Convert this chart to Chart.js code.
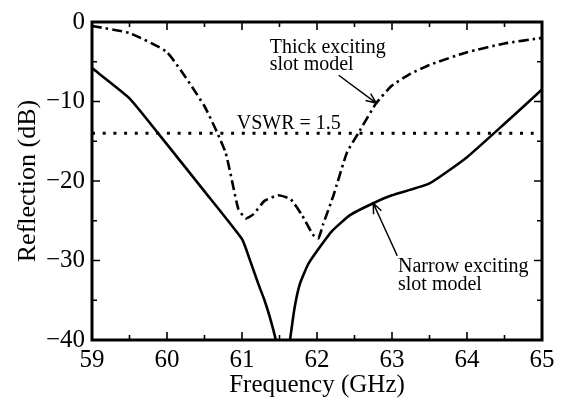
<!DOCTYPE html>
<html>
<head>
<meta charset="utf-8">
<script src="https://cdn.jsdelivr.net/npm/chart.js@4.4.1/dist/chart.umd.min.js"></script>
<style>
  html, body { margin: 0; padding: 0; background: #fff; }
  #wrap { width: 562px; height: 406px; }
</style>
</head>
<body>
<div id="wrap"><canvas id="refl"></canvas></div>
<script>
// values
const narrowFreq = [59, 59.5, 60, 60.5, 61, 61.1, 61.22, 61.3, 61.37, 61.45, 61.52, 61.58, 61.64, 61.7, 61.77, 61.88, 62, 62.2, 62.44, 62.75, 63, 63.5, 64, 64.5, 65];
const narrowRefl = [-5.8, -9.6, -15.4, -21.3, -27.3, -29.8, -33.0, -35.0, -37.1, -40, -44, -44, -40, -36, -33, -30.5, -28.8, -26.3, -24.3, -22.8, -21.8, -20.3, -17.0, -12.8, -8.5];

const thickFreq = [59, 59.5, 60, 60.5, 60.78, 60.95, 61.05, 61.15, 61.3, 61.48, 61.65, 61.8, 61.95, 62.02, 62.08, 62.22, 62.4, 62.55, 62.79, 63, 63.25, 63.5, 64, 64.5, 65];
const thickRefl = [-0.5, -1.4, -3.8, -10.6, -16.4, -23.5, -24.7, -24.2, -22.5, -21.8, -22.3, -24.3, -26.8, -27.2, -25.5, -21.8, -16.4, -14.0, -10.2, -8.0, -6.5, -5.4, -3.8, -2.7, -2.0];

const vswrFreq = [59, 65];
const vswrRefl = [-14, -14];

const xTicks = [59, 60, 61, 62, 63, 64, 65];
const yTicks = [0, -10, -20, -30, -40];

const serif = '"Liberation Serif", "DejaVu Serif", serif';

function pts(xs, ys) {
  return xs.map((x, i) => ({ x: x, y: ys[i] }));
}

// frame, inward ticks, labels and arrows
const framePlugin = {
  id: 'frame',
  afterDatasetsDraw(chart) {
    const { ctx, chartArea: a, scales: { x, y } } = chart;
    ctx.save();
    ctx.strokeStyle = '#000';
    ctx.lineCap = 'butt';

    ctx.lineWidth = 1.6;
    for (let f = 59.5; f < 65; f += 0.5) {
      const px = x.getPixelForValue(f);
      const len = Math.abs(f - Math.round(f)) < 0.01 ? 8 : 5;
      ctx.beginPath();
      ctx.moveTo(px, a.bottom); ctx.lineTo(px, a.bottom - len);
      ctx.moveTo(px, a.top); ctx.lineTo(px, a.top + len);
      ctx.stroke();
    }
    for (let v = -35; v < 0; v += 5) {
      const py = y.getPixelForValue(v);
      const len = v % 10 === 0 ? 8 : 5;
      ctx.beginPath();
      ctx.moveTo(a.left, py); ctx.lineTo(a.left + len, py);
      ctx.moveTo(a.right, py); ctx.lineTo(a.right - len, py);
      ctx.stroke();
    }

    ctx.lineWidth = 3;
    ctx.strokeRect(a.left, a.top, a.right - a.left, a.bottom - a.top);

    ctx.fillStyle = '#000';
    ctx.font = '20px ' + serif;
    ctx.textAlign = 'left';
    ctx.textBaseline = 'alphabetic';
    const txt = (s, f, v) => ctx.fillText(s, x.getPixelForValue(f), y.getPixelForValue(v));
    txt('Thick exciting', 61.37, -3.9);
    txt('slot model', 61.37, -6.1);
    txt('VSWR = 1.5', 60.93, -13.5);
    txt('Narrow exciting', 63.08, -31.5);
    txt('slot model', 63.08, -33.75);

    const arrow = (f0, v0, f1, v1) => {
      const x0 = x.getPixelForValue(f0), y0 = y.getPixelForValue(v0);
      const x1 = x.getPixelForValue(f1), y1 = y.getPixelForValue(v1);
      const ang = Math.atan2(y1 - y0, x1 - x0);
      ctx.lineWidth = 1.5;
      ctx.beginPath();
      ctx.moveTo(x0, y0); ctx.lineTo(x1, y1);
      ctx.moveTo(x1 - 11 * Math.cos(ang - 0.4), y1 - 11 * Math.sin(ang - 0.4));
      ctx.lineTo(x1, y1);
      ctx.lineTo(x1 - 11 * Math.cos(ang + 0.4), y1 - 11 * Math.sin(ang + 0.4));
      ctx.stroke();
    };
    arrow(62.29, -6.7, 62.79, -10.2);
    arrow(63.07, -29.4, 62.75, -22.8);
    ctx.restore();
  }
};

new Chart(document.getElementById('refl'), {
  type: 'line',
  data: {
    datasets: [
      {
        label: 'Narrow exciting slot model',
        data: pts(narrowFreq, narrowRefl),
        borderColor: '#000',
        borderWidth: 2.6,
        pointRadius: 0,
        tension: 0.15
      },
      {
        label: 'Thick exciting slot model',
        data: pts(thickFreq, thickRefl),
        borderColor: '#000',
        borderWidth: 2.6,
        borderDash: [10, 4, 2.5, 4],
        pointRadius: 0,
        tension: 0.15
      },
      {
        label: 'VSWR = 1.5',
        data: pts(vswrFreq, vswrRefl),
        borderColor: '#000',
        borderWidth: 3,
        borderDash: [3, 7.7],
        pointRadius: 0
      }
    ]
  },
  options: {
    responsive: true,
    maintainAspectRatio: false,
    animation: false,
    layout: { padding: { left: 0, right: 20, top: 18, bottom: 0 } },
    scales: {
      x: {
        type: 'linear',
        min: 59, max: 65,
        afterFit: (s) => { s.height = 66; },
        afterBuildTicks: (s) => { s.ticks = xTicks.map(v => ({ value: v })); },
        grid: { display: false, drawTicks: false },
        border: { display: false },
        ticks: { color: '#000', font: { family: serif, size: 25 }, padding: 5, maxRotation: 0 },
        title: { display: true, text: 'Frequency (GHz)', color: '#000', font: { family: serif, size: 25 }, padding: { top: 0, bottom: 6 } }
      },
      y: {
        min: -40, max: 0,
        afterFit: (s) => { s.width = 92; },
        afterBuildTicks: (s) => { s.ticks = yTicks.map(v => ({ value: v })); },
        grid: { display: false, drawTicks: false },
        border: { display: false },
        ticks: {
          color: '#000', font: { family: serif, size: 25 }, padding: 7,
          callback: (v) => v < 0 ? '\u2212' + Math.abs(v) : String(v)
        },
        title: { display: true, text: 'Reflection (dB)', color: '#000', font: { family: serif, size: 26 }, padding: { top: 13, bottom: 0 } }
      }
    },
    plugins: {
      legend: { display: false },
      tooltip: { enabled: false }
    }
  },
  plugins: [framePlugin]
});
</script>
</body>
</html>
